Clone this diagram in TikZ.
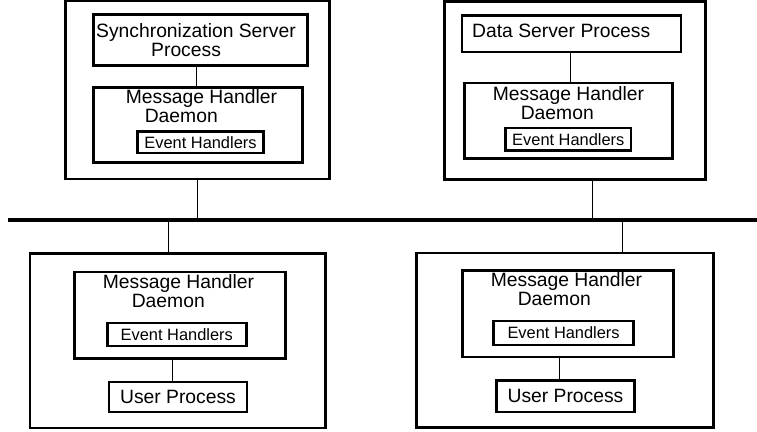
\documentclass[tikz,border=0pt]{standalone}
\usepackage{fontspec}
\setmainfont{Liberation Sans}

\begin{document}
\begin{tikzpicture}[x=1pt,y=-1pt,
  box/.style={draw,line width=2.5pt,inner sep=0pt,outer sep=0pt},
  ehbox/.style={box,font=\fontsize{16.4}{17}\selectfont},
  upbox/.style={box,font=\fontsize{19.3}{19}\selectfont},
  txt/.style={anchor=north west,inner sep=0pt,align=left,font=\fontsize{19.3}{19}\selectfont},
  wire/.style={line width=1pt},
  busline/.style={line width=3.5pt}]
  \useasboundingbox (0,0) rectangle (757,431);

  \node[box,minimum width=264pt,minimum height=178pt] (srvA) at (197.5,90) {};
  \node[box,minimum width=214pt,minimum height=50.6pt] (sync) at (200.4,40) {};
  \node[txt] (syncT) at (96,23.7) {Synchronization Server\\\hspace*{55pt}Process};
  \node[box,minimum width=209pt,minimum height=75pt] (mhdA) at (198,125.2) {};
  \node[txt] (mhdAT) at (125.6,89) {Message Handler\\\hspace*{19pt}Daemon};
  \node[ehbox,minimum width=125.6pt,minimum height=21.7pt] (ehA) at (200.5,142.2) {Event Handlers};

  \node[box,minimum width=261.4pt,minimum height=178pt] (srvB) at (575,90.5) {};
  \node[box,minimum width=219pt,minimum height=36.5pt] (ds) at (571.5,33.8) {};
  \node[txt] (dsT) at (472,23.7) {Data Server Process};
  \node[box,minimum width=207.8pt,minimum height=75.7pt] (mhdB) at (568.6,120.8) {};
  \node[txt] (mhdBT) at (492.6,86.5) {Message Handler\\\hspace*{28pt}Daemon};
  \node[ehbox,minimum width=125.3pt,minimum height=22.3pt] (ehB) at (568.3,139.2) {Event Handlers};

  \node[box,minimum width=295.7pt,minimum height=174.7pt] (srvC) at (177.8,340.7) {};
  \node[box,minimum width=211pt,minimum height=86.7pt] (mhdC) at (180.2,315.3) {};
  \node[txt] (mhdCT) at (102.6,274.5) {Message Handler\\\hspace*{29pt}Daemon};
  \node[ehbox,minimum width=139pt,minimum height=23pt] (ehC) at (176.8,334.5) {Event Handlers};
  \node[upbox,minimum width=138pt,minimum height=30.3pt] (upC) at (178,397) {User Process};

  \node[box,minimum width=296.6pt,minimum height=174.3pt] (srvD) at (565,340.2) {};
  \node[box,minimum width=211.2pt,minimum height=86.3pt] (mhdD) at (567.9,313.8) {};
  \node[txt] (mhdDT) at (490.6,272.5) {Message Handler\\\hspace*{27pt}Daemon};
  \node[ehbox,minimum width=139.8pt,minimum height=24pt] (ehD) at (563.6,333) {Event Handlers};
  \node[upbox,minimum width=138pt,minimum height=31.3pt] (upD) at (565.5,396.3) {User Process};

  \coordinate (busL) at (8,219.8);
  \coordinate (busR) at (757,219.8);
  \coordinate (tapB) at (592,219.8);
  \coordinate (tapC) at (168,219.8);
  \coordinate (tapD) at (622,219.8);
  \draw[busline] (busL) -- (busR);

  \draw[wire] ([xshift=-4pt]sync.south) -- ([xshift=-4pt]sync.south |- mhdA.north);
  \draw[wire] ([xshift=-1.5pt]ds.south) -- ([xshift=-1.5pt]ds.south |- mhdB.north);
  \draw[wire] (srvA.south) -- (srvA.south |- busL);
  \draw[wire] (tapB) -- (tapB |- srvB.south);
  \draw[wire] (tapC) -- (tapC |- srvC.north);
  \draw[wire] (tapD) -- (tapD |- srvD.north);
  \draw[wire] ([xshift=-6pt]upC.north) -- ([xshift=-6pt]upC.north |- mhdC.south);
  \draw[wire] ([xshift=-6.5pt]upD.north) -- ([xshift=-6.5pt]upD.north |- mhdD.south);
\end{tikzpicture}
\end{document}
